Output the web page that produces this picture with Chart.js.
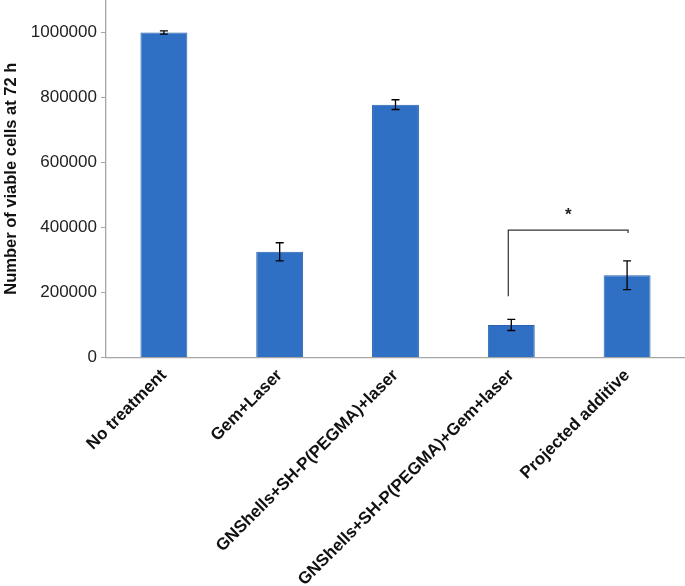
<!DOCTYPE html>
<html lang="en">
<head>
  <meta charset="UTF-8" />
  <title>Viable cells at 72 h</title>
  <script src="https://cdn.jsdelivr.net/npm/chart.js"></script>
  <style>
    html, body { margin: 0; padding: 0; background: #fff; }
    #wrap { width: 685px; height: 586px; }
  </style>
</head>
<body>
  <div id="wrap"><canvas id="cellsChart"></canvas></div>

  <script>
    const categories = [
      'No treatment',
      'Gem+Laser',
      'GNShells+SH-P(PEGMA)+laser',
      'GNShells+SH-P(PEGMA)+Gem+laser',
      'Projected additive'
    ];
    const cellCounts = [1000000, 325000, 778000, 100000, 253000];
    const errors = [5000, 28000, 15000, 17000, 44000];
    const yTicks = [0, 200000, 400000, 600000, 800000, 1000000];

    // significance bracket between bars 4 and 5
    const bracket = { from: 3, to: 4, leftLow: 188000, top: 392000, rightLow: 383000, label: '*' };

    const errorBars = {
      id: 'errorBars',
      afterDatasetsDraw(chart) {
        const { ctx, scales: { x, y } } = chart;
        ctx.save();
        ctx.strokeStyle = '#000';
        ctx.lineWidth = 1.3;
        cellCounts.forEach((v, i) => {
          const px = x.getPixelForValue(i);
          const hi = y.getPixelForValue(v + errors[i]);
          const lo = y.getPixelForValue(v - errors[i]);
          ctx.beginPath();
          ctx.moveTo(px, hi); ctx.lineTo(px, lo);
          ctx.moveTo(px - 4, hi); ctx.lineTo(px + 4, hi);
          ctx.moveTo(px - 4, lo); ctx.lineTo(px + 4, lo);
          ctx.stroke();
        });

        // bracket
        const x1 = x.getPixelForValue(bracket.from) - 3;
        const x2 = x.getPixelForValue(bracket.to) + 1;
        ctx.strokeStyle = '#333';
        ctx.lineWidth = 1.2;
        ctx.beginPath();
        ctx.moveTo(x1, y.getPixelForValue(bracket.leftLow));
        ctx.lineTo(x1, y.getPixelForValue(bracket.top));
        ctx.lineTo(x2, y.getPixelForValue(bracket.top));
        ctx.lineTo(x2, y.getPixelForValue(bracket.rightLow));
        ctx.stroke();
        ctx.fillStyle = '#222';
        ctx.font = 'bold 17px "Liberation Sans", Arial, sans-serif';
        ctx.textAlign = 'center';
        ctx.textBaseline = 'middle';
        ctx.fillText(bracket.label, (x1 + x2) / 2, y.getPixelForValue(bracket.top) - 15);
        ctx.restore();
      }
    };

    new Chart(document.getElementById('cellsChart'), {
      type: 'bar',
      data: {
        labels: categories,
        datasets: [{
          data: cellCounts,
          backgroundColor: '#3070c4',
          borderColor: '#2a62ad',
          borderWidth: 1,
          barPercentage: 0.81,
          categoryPercentage: 0.5
        }]
      },
      options: {
        responsive: true,
        maintainAspectRatio: false,
        animation: false,
        layout: { padding: { left: 2, right: 0, top: 0, bottom: -12 } },
        plugins: {
          legend: { display: false },
          tooltip: { enabled: false }
        },
        scales: {
          x: {
            grid: { display: false, drawTicks: false },
            border: { color: '#a6a6a6', width: 1.3 },
            ticks: {
              color: '#111',
              maxRotation: 45,
              minRotation: 45,
              padding: 8,
              font: { family: '"Liberation Sans", Arial, sans-serif', size: 17, weight: 'bold' }
            }
          },
          y: {
            min: 0,
            max: 1100000,
            afterBuildTicks(scale) {
              scale.ticks = yTicks.map(v => ({ value: v }));
            },
            afterFit(scale) {
              scale.paddingTop = 0;
            },
            grid: { display: true, drawOnChartArea: false, drawTicks: true, tickLength: 5, color: '#a6a6a6' },
            border: { color: '#a6a6a6', width: 1.3 },
            ticks: {
              color: '#222',
              padding: 4,
              callback: v => String(v),
              font: { family: '"Liberation Sans", Arial, sans-serif', size: 17 }
            },
            title: {
              display: true,
              text: 'Number of viable cells at 72 h',
              color: '#111',
              padding: { top: 0, bottom: 5 },
              font: { family: '"Liberation Sans", Arial, sans-serif', size: 16.5, weight: 'bold' }
            }
          }
        }
      },
      plugins: [errorBars]
    });
  </script>
</body>
</html>
